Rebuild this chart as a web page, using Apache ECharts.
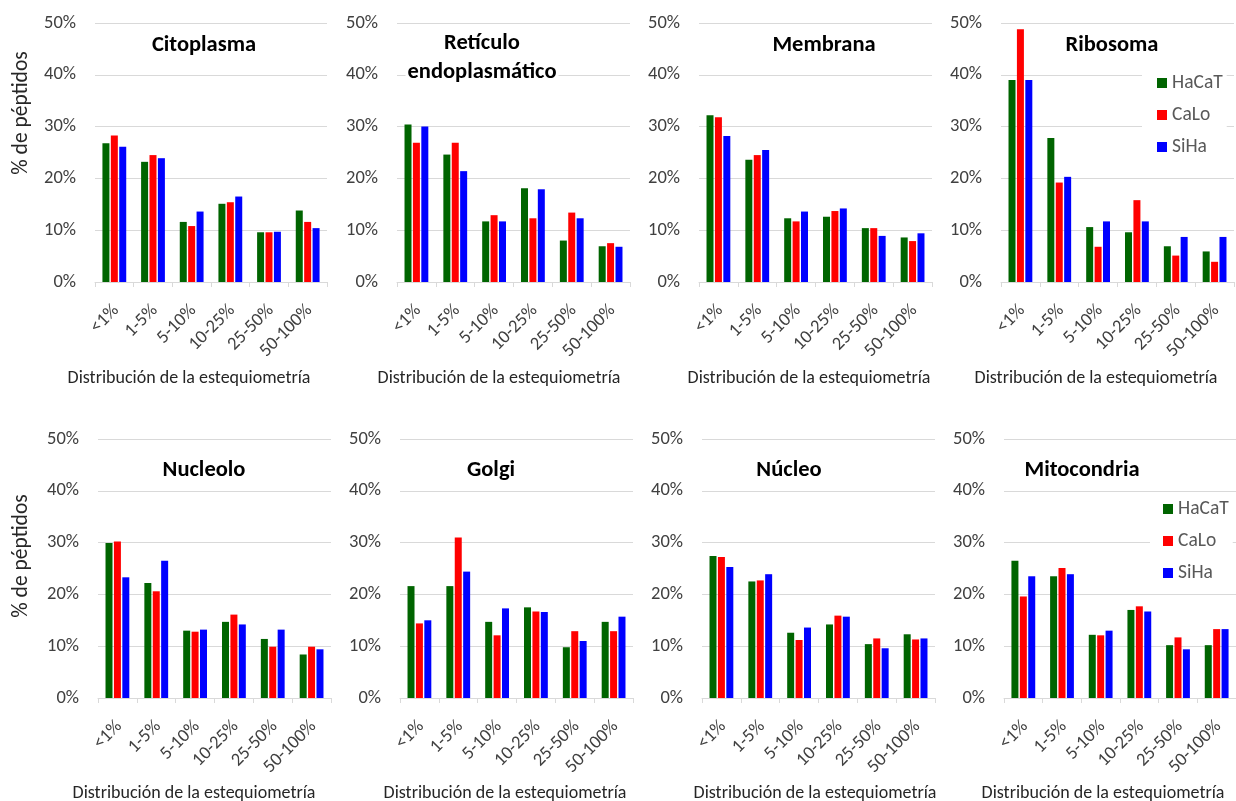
<!DOCTYPE html>
<html>
<head>
<meta charset="utf-8">
<script src="https://cdn.jsdelivr.net/npm/echarts@6/dist/echarts.min.js"></script>
<style>
  html, body { margin: 0; padding: 0; background: #ffffff; }
  #chart { width: 1236px; height: 801px; }
</style>
</head>
<body>
<div id="chart"></div>
<script>
// Stoichiometry bins shared by every panel
const categories = ['<1%', '1-5%', '5-10%', '10-25%', '25-50%', '50-100%'];
const seriesNames = ['HaCaT', 'CaLo', 'SiHa'];
const yTicks = [0, 10, 20, 30, 40, 50];

// % of peptides per bin, rows in order HaCaT, CaLo, SiHa
const citoplasma = [
  [26.8, 23.2, 11.6, 15.1, 9.6, 13.8],
  [28.3, 24.5, 10.8, 15.4, 9.6, 11.6],
  [26.1, 23.9, 13.6, 16.5, 9.7, 10.4]
];
const reticulo = [
  [30.4, 24.6, 11.7, 18.1, 8.0, 6.9],
  [26.9, 26.9, 12.9, 12.3, 13.4, 7.5],
  [30.0, 21.4, 11.7, 17.9, 12.3, 6.8]
];
const membrana = [
  [32.2, 23.6, 12.3, 12.6, 10.4, 8.6],
  [31.8, 24.5, 11.7, 13.7, 10.4, 7.9],
  [28.2, 25.5, 13.6, 14.2, 8.9, 9.4]
];
const ribosoma = [
  [39.0, 27.8, 10.6, 9.6, 6.9, 5.9],
  [48.8, 19.2, 6.8, 15.8, 5.1, 3.9],
  [39.0, 20.3, 11.7, 11.7, 8.7, 8.7]
];
const nucleolo = [
  [29.9, 22.2, 13.0, 14.7, 11.4, 8.4],
  [30.2, 20.6, 12.8, 16.1, 9.9, 9.9],
  [23.3, 26.5, 13.2, 14.2, 13.2, 9.4]
];
const golgi = [
  [21.6, 21.6, 14.7, 17.5, 9.8, 14.7],
  [14.4, 31.0, 12.1, 16.7, 12.9, 12.9],
  [15.0, 24.4, 17.3, 16.6, 11.0, 15.7]
];
const nucleo = [
  [27.4, 22.5, 12.6, 14.2, 10.4, 12.3],
  [27.2, 22.7, 11.2, 15.9, 11.5, 11.3],
  [25.3, 23.9, 13.6, 15.7, 9.6, 11.5]
];
const mitocondria = [
  [26.5, 23.5, 12.2, 17.0, 10.2, 10.2],
  [19.6, 25.1, 12.1, 17.7, 11.7, 13.3],
  [23.5, 23.9, 13.0, 16.7, 9.4, 13.3]
];

const panelTitles = ['Citoplasma', 'Retículo\nendoplasmático', 'Membrana', 'Ribosoma',
                     'Nucleolo', 'Golgi', 'Núcleo', 'Mitocondria'];
const panelData = [citoplasma, reticulo, membrana, ribosoma, nucleolo, golgi, nucleo, mitocondria];
const xAxisTitle = 'Distribución de la estequiometría';
const yAxisTitle = '% de péptidos';

// ---- layout ----
const FONT = 'Carlito, Calibri, Lato, sans-serif';
const colors = ['#006400', '#ff0000', '#0000ff'];
const plotHeight = 259;
const gridBoxes = [
  [95, 23, 232], [397, 23, 233], [699, 23, 233], [1001, 23, 233],
  [98, 439, 233], [400, 439, 233], [702, 439, 233], [1004, 439, 232]
];
const titlePos = [[204, 45], [482, 58], [824, 45], [1112, 45],
                  [204, 470], [491, 470], [789, 470], [1082, 470]];
const xTitlePos = [[189, 378], [499, 378], [809, 378], [1096, 378],
                   [194, 793], [505, 793], [815, 793], [1103, 793]];
const yTitlePos = [[22, 113], [22, 556]];

const grid = [], xAxis = [], yAxis = [], series = [], graphic = [];

gridBoxes.forEach((b, i) => {
  grid.push({ left: b[0], top: b[1], width: b[2], height: plotHeight, containLabel: false });
  xAxis.push({
    type: 'category', gridIndex: i, data: categories,
    axisLine: { lineStyle: { color: '#d9d9d9', width: 1 } },
    axisTick: { show: true, length: 5, lineStyle: { color: '#d9d9d9' } },
    axisLabel: { rotate: 45, margin: 14, align: 'right', verticalAlign: 'top', padding: [0, 7, 0, 0],
                 fontSize: 18.5, color: '#404040', fontFamily: FONT, interval: 0 }
  });
  yAxis.push({
    type: 'value', gridIndex: i, min: yTicks[0], max: yTicks[yTicks.length - 1], interval: 10,
    axisLine: { show: false }, axisTick: { show: false },
    splitLine: { lineStyle: { color: '#d9d9d9', width: 1 } },
    axisLabel: { formatter: '{value}%', margin: 19, fontSize: 18.5, color: '#404040', fontFamily: FONT }
  });
  panelData[i].forEach((vals, s) => {
    series.push({
      type: 'bar', name: seriesNames[s], xAxisIndex: i, yAxisIndex: i,
      data: vals, barWidth: 7, barGap: '20%',
      itemStyle: { color: colors[s] },
      emphasis: { disabled: true }
    });
  });
  // panel title sits on a white box that hides the gridlines behind it
  graphic.push({
    type: 'text', x: titlePos[i][0], y: titlePos[i][1], z: 100,
    style: { text: panelTitles[i], fontSize: 22.5, fontWeight: 'bold', fontFamily: FONT,
             fill: '#000000', align: 'center', verticalAlign: 'middle', lineHeight: 29,
             backgroundColor: '#ffffff', padding: [0, 2] }
  });
  graphic.push({
    type: 'text', x: xTitlePos[i][0], y: xTitlePos[i][1], z: 100,
    style: { text: xAxisTitle, fontSize: 18, fontFamily: FONT, fill: '#262626',
             align: 'center', verticalAlign: 'middle' }
  });
});

yTitlePos.forEach(p => {
  graphic.push({
    type: 'text', x: p[0], y: p[1], rotation: Math.PI / 2, z: 100,
    style: { text: yAxisTitle, fontSize: 21.5, fontFamily: FONT, fill: '#262626',
             align: 'center', verticalAlign: 'middle' }
  });
});

const legendBase = {
  data: seriesNames, orient: 'vertical', icon: 'rect',
  itemWidth: 10, itemHeight: 10, itemGap: 12, backgroundColor: '#ffffff', z: 50,
  textStyle: { fontSize: 19.5, color: '#595959', fontFamily: FONT }
};

const chart = echarts.init(document.getElementById('chart'), null, { renderer: 'canvas' });
chart.setOption({
  animation: false,
  color: colors,
  grid, xAxis, yAxis, series, graphic,
  legend: [
    Object.assign({ left: 1142, top: 69, padding: [4, 4, 4, 15] }, legendBase),
    Object.assign({ left: 1150, top: 495, padding: [4, 4, 4, 13] }, legendBase)
  ]
});
</script>
</body>
</html>
